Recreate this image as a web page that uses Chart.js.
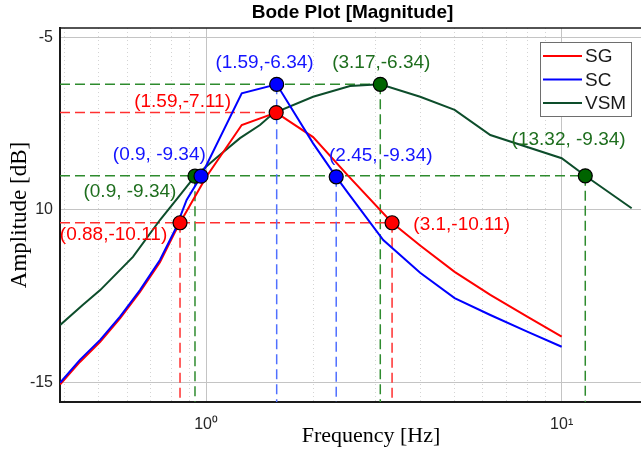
<!DOCTYPE html>
<html>
<head>
<meta charset="utf-8">
<title>Bode Plot [Magnitude]</title>
<script src="https://cdn.jsdelivr.net/npm/chart.js@4.4.1/dist/chart.umd.min.js"></script>
<style>
  html, body { margin: 0; padding: 0; background: #fff; overflow: hidden; }
  #wrap { width: 645px; height: 455px; }
</style>
</head>
<body>
<div id="wrap"><canvas id="bode" width="645" height="455"></canvas></div>
<script>
'use strict';

// axis ranges (Hz, dB) as seen in the figure
const X_MIN = 0.3885, X_MAX = 17.15;
const Y_MIN = -15.56, Y_MAX = -4.73;
const xMajorTicks = [1, 10];
const xMajorLabels = ['10\u2070', '10\u00b9'];
const xMinorTicks = [0.4, 0.5, 0.6, 0.7, 0.8, 0.9, 2, 3, 4, 5, 6, 7, 8, 9];
const yTicks = [-15, -10, -5];
const yTickLabels = ['-15', '10', '-5'];

// SG curve
const sgFreq = [0.389, 0.442, 0.504, 0.573, 0.652, 0.742, 0.818, 0.845, 1.0, 1.26, 1.575, 2.0, 2.5, 3.335, 4.0, 5.0, 6.3, 8.0, 10.0];
const sgAmp  = [-15.05, -14.40, -13.82, -13.14, -12.37, -11.51, -10.64, -10.37, -9.05, -7.54, -7.18, -7.89, -8.99, -10.37, -11.03, -11.79, -12.46, -13.09, -13.67];

// SC curve
const scFreq = [0.389, 0.442, 0.504, 0.573, 0.652, 0.742, 0.818, 0.882, 0.968, 1.26, 1.58, 2.0, 2.323, 2.5, 3.15, 4.0, 5.0, 6.3, 8.0, 10.0];
const scAmp  = [-15.00, -14.34, -13.76, -13.09, -12.32, -11.45, -10.58, -9.71, -9.02, -6.62, -6.36, -8.07, -9.04, -9.49, -10.87, -11.82, -12.55, -13.04, -13.52, -13.96];

// VSM curve
const vsmFreq = [0.389, 0.45, 0.504, 0.623, 0.742, 0.834, 0.931, 1.074, 1.246, 1.418, 1.546, 2.0, 2.54, 3.09, 4.0, 5.0, 6.3, 10.0, 11.65, 15.73];
const vsmAmp  = [-13.33, -12.75, -12.32, -11.36, -10.29, -9.64, -9.02, -8.47, -7.92, -7.54, -7.20, -6.72, -6.41, -6.36, -6.72, -7.10, -7.83, -8.50, -9.01, -9.95];

// marked points and their captions
const sgMarkFreq = [0.845, 1.575, 3.335];
const sgMarkAmp  = [-10.37, -7.18, -10.37];
const sgMarkText = ['(0.88,-10.11)', '(1.59,-7.11)', '(3.1,-10.11)'];
const sgTextFreq = [0.5495, 0.859, 5.235];
const sgTextAmp  = [-10.72, -6.86, -10.43];
const sgHGuide = [1, 2];
const sgVGuide = [0, 2];

const scMarkFreq = [0.968, 1.58, 2.323];
const scMarkAmp  = [-9.02, -6.36, -9.04];
const scMarkText = ['(0.9, -9.34)', '(1.59,-6.34)', '(2.45, -9.34)'];
const scTextFreq = [0.739, 1.46, 3.10];
const scTextAmp  = [-8.41, -5.75, -8.44];
const scHGuide = [];
const scVGuide = [1, 2];

const vsmMarkFreq = [0.931, 3.09, 11.65];
const vsmMarkAmp  = [-9.02, -6.36, -9.01];
const vsmMarkText = ['(0.9, -9.34)', '(3.17,-6.34)', '(13.32, -9.34)'];
const vsmTextFreq = [0.611, 3.11, 10.46];
const vsmTextAmp  = [-9.47, -5.75, -7.97];
const vsmHGuide = [1, 2];
const vsmVGuide = [0, 1, 2];

const RED = '#ff0000', BLUE = '#0000ff', DKGREEN = '#0d4d2b';

const pts = (fs, as) => fs.map((f, i) => ({ x: f, y: as[i] }));

function curve(label, fs, as, color, order) {
  return { type: 'line', label, data: pts(fs, as), borderColor: color, borderWidth: 2,
    pointRadius: 0, tension: 0, fill: false, order };
}

function marks(fs, as, fillColor, order) {
  return { type: 'line', data: pts(fs, as), showLine: false, pointRadius: 7,
    pointBackgroundColor: fillColor, pointBorderColor: '#000', pointBorderWidth: 1.2, order };
}

function guides(fs, as, hIdx, vIdx, color) {
  const out = [];
  const mk = d => ({ type: 'line', data: d, borderColor: color, borderWidth: 1.5,
    borderDash: [10, 5], pointRadius: 0, fill: false, order: 6 });
  hIdx.forEach(i => out.push(mk([{ x: X_MIN, y: as[i] }, { x: fs[i], y: as[i] }])));
  vIdx.forEach(i => out.push(mk([{ x: fs[i], y: as[i] }, { x: fs[i], y: Y_MIN }])));
  return out;
}

const captionGroups = [
  { color: '#ff0000', text: sgMarkText, f: sgTextFreq, a: sgTextAmp },
  { color: '#1414ff', text: scMarkText, f: scTextFreq, a: scTextAmp },
  { color: '#1e6e1e', text: vsmMarkText, f: vsmTextFreq, a: vsmTextAmp }
];
const legendItems = [['SG', RED], ['SC', BLUE], ['VSM', DKGREEN]];

const decorations = {
  id: 'decorations',
  afterDatasetsDraw(chart) {
    const { ctx, chartArea: a, scales: { x, y } } = chart;
    ctx.save();
    // top frame
    ctx.strokeStyle = '#1a1a1a';
    ctx.lineWidth = 1.5;
    ctx.beginPath();
    ctx.moveTo(a.left, a.top);
    ctx.lineTo(a.right, a.top);
    ctx.stroke();

    // point captions
    ctx.font = '19px "Liberation Sans", Arial, sans-serif';
    ctx.textAlign = 'center';
    ctx.textBaseline = 'middle';
    captionGroups.forEach(g => {
      ctx.fillStyle = g.color;
      g.text.forEach((t, i) => ctx.fillText(t, x.getPixelForValue(g.f[i]), y.getPixelForValue(g.a[i])));
    });

    // legend
    const bx = a.right - 105, by = a.top + 14, bw = 91, bh = 74;
    ctx.fillStyle = '#fff';
    ctx.fillRect(bx, by, bw, bh);
    ctx.strokeStyle = '#6e6e6e';
    ctx.lineWidth = 1;
    ctx.strokeRect(bx + 0.5, by + 0.5, bw, bh);
    ctx.textAlign = 'left';
    ctx.font = '19px "Liberation Sans", Arial, sans-serif';
    legendItems.forEach(([name, color], i) => {
      const ly = by + 14 + i * 23.5;
      ctx.strokeStyle = color;
      ctx.lineWidth = 2;
      ctx.beginPath();
      ctx.moveTo(bx + 3, ly);
      ctx.lineTo(bx + 42, ly);
      ctx.stroke();
      ctx.fillStyle = '#1a1a1a';
      ctx.fillText(name, bx + 45, ly + 1);
    });

    // x axis title
    ctx.fillStyle = '#000';
    ctx.textAlign = 'center';
    ctx.font = '22px "Liberation Serif", "Times New Roman", serif';
    ctx.fillText('Frequency [Hz]', 371, 436);
    ctx.restore();
  }
};

const datasets = [
  marks(scMarkFreq, scMarkAmp, BLUE, 0),
  marks(sgMarkFreq, sgMarkAmp, RED, 0),
  marks(vsmMarkFreq, vsmMarkAmp, '#006400', 1),
  curve('SC', scFreq, scAmp, BLUE, 2),
  curve('SG', sgFreq, sgAmp, RED, 3),
  curve('VSM', vsmFreq, vsmAmp, DKGREEN, 4),
  ...guides(scMarkFreq, scMarkAmp, scHGuide, scVGuide, '#5070ff'),
  ...guides(sgMarkFreq, sgMarkAmp, sgHGuide, sgVGuide, '#ff3030'),
  ...guides(vsmMarkFreq, vsmMarkAmp, vsmHGuide, vsmVGuide, '#2e8b2e')
];

const tickFont = { family: '"Liberation Sans", Arial, sans-serif', size: 16 };

new Chart(document.getElementById('bode'), {
  type: 'line',
  data: { datasets },
  plugins: [decorations],
  options: {
    responsive: false,
    animation: false,
    devicePixelRatio: 1,
    layout: { padding: 0, autoPadding: false },
    plugins: {
      legend: { display: false },
      tooltip: { enabled: false },
      title: {
        display: true, text: 'Bode Plot [Magnitude]', fullSize: false, color: '#000',
        font: { family: '"Liberation Sans", Arial, sans-serif', size: 19, weight: 'bold', lineHeight: 1.2 },
        padding: { top: 1, bottom: 4.2 }
      }
    },
    scales: {
      x: {
        type: 'logarithmic', min: X_MIN, max: X_MAX,
        afterBuildTicks: s => { s.ticks = xMajorTicks.map(v => ({ value: v })); },
        afterFit: s => { s.height = 53; },
        ticks: { font: tickFont, color: '#262626', padding: 13, maxRotation: 0, autoSkip: false,
          callback: (v, i) => xMajorLabels[i] },
        grid: { color: '#c4c4c4', lineWidth: 1, drawTicks: false },
        border: { display: true, color: '#1a1a1a', width: 2 }
      },
      xm: {
        type: 'logarithmic', axis: 'x', position: 'bottom', min: X_MIN, max: X_MAX,
        afterBuildTicks: s => { s.ticks = xMinorTicks.map(v => ({ value: v })); },
        afterFit: s => { s.height = 0; },
        ticks: { display: false },
        grid: { color: '#d4d4d4', lineWidth: 1, drawTicks: false },
        border: { display: false, dash: [1, 3] }
      },
      y: {
        type: 'linear', min: Y_MIN, max: Y_MAX,
        afterBuildTicks: s => { s.ticks = yTicks.map(v => ({ value: v })); },
        afterFit: s => { s.width = 60; },
        ticks: { font: tickFont, color: '#262626', padding: 7, callback: (v, i) => yTickLabels[i] },
        grid: { color: '#c4c4c4', lineWidth: 1, drawTicks: false },
        border: { display: true, color: '#1a1a1a', width: 2 },
        title: { display: true, text: 'Amplitude [dB]', color: '#000',
          font: { family: '"Liberation Serif", "Times New Roman", serif', size: 23, lineHeight: 1.2 },
          padding: { top: 6, bottom: 0 } }
      }
    }
  }
});
</script>
</body>
</html>
